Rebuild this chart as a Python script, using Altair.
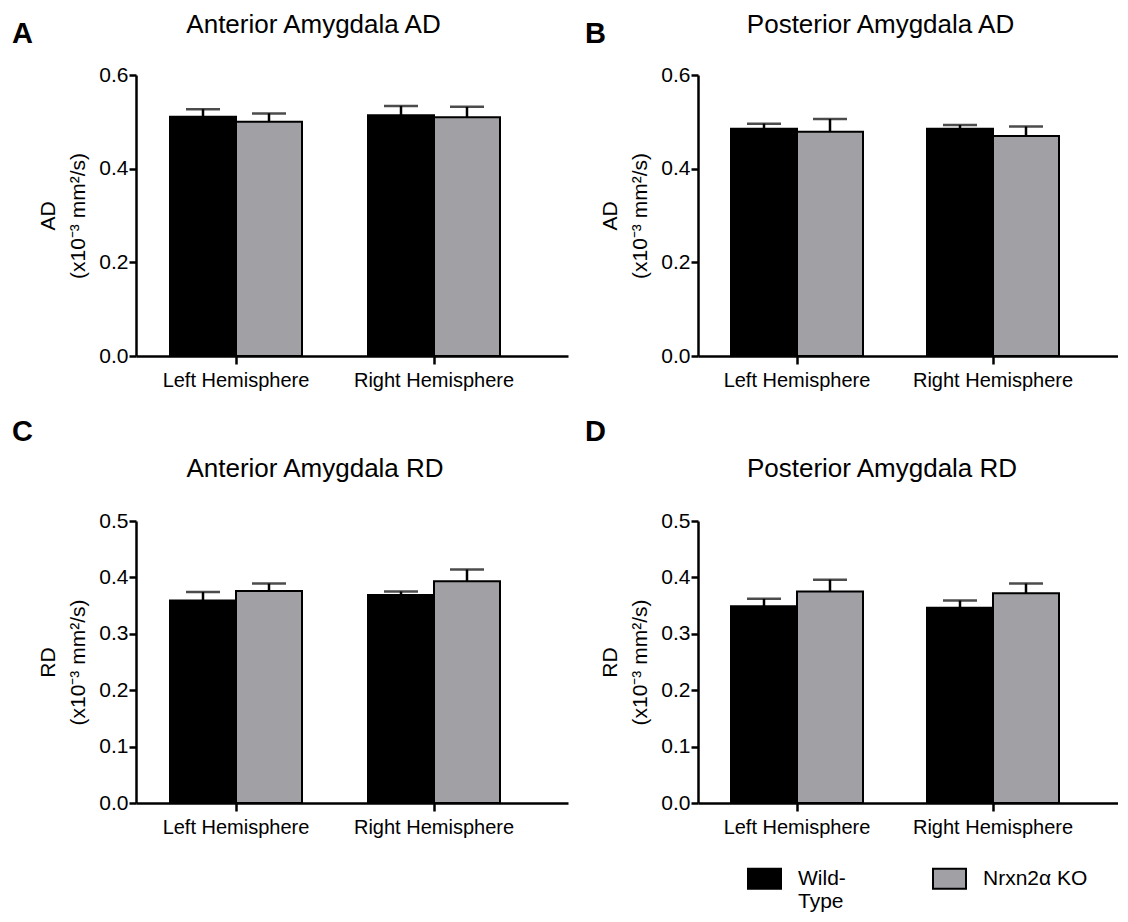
import altair as alt
import pandas as pd

hemispheres = ["Left Hemisphere", "Right Hemisphere"]
groups = ["Wild-Type", "Nrxn2α KO"]
unit_label = "(x10⁻³ mm²/s)"

# order of values: Left WT, Left KO, Right WT, Right KO
ant_ad_mean = [0.511, 0.500, 0.514, 0.510]
ant_ad_err = [0.016, 0.018, 0.020, 0.022]
post_ad_mean = [0.485, 0.479, 0.485, 0.470]
post_ad_err = [0.011, 0.027, 0.008, 0.020]
ant_rd_mean = [0.359, 0.376, 0.369, 0.393]
ant_rd_err = [0.015, 0.013, 0.006, 0.021]
post_rd_mean = [0.349, 0.375, 0.346, 0.372]
post_rd_err = [0.013, 0.021, 0.013, 0.017]

ad_ticks = [0.0, 0.2, 0.4, 0.6]
rd_ticks = [0.0, 0.1, 0.2, 0.3, 0.4, 0.5]

FONT = "Liberation Sans"
GRAY = "#a0a0a5"


def band_params(width, first_center, step, group_w=132):
    pi = 1 - group_w / step
    outer = width - step - group_w
    po = outer / (2 * step)
    al = (first_center - group_w / 2) / outer
    return pi, po, al


def panel(mean, err, title, letter, ylab, ticks, width, height, first_center, step,
          title_x, title_y, letter_x, letter_y):
    df = pd.DataFrame({
        "hemi": [h for h in hemispheres for g in groups],
        "group": [g for h in hemispheres for g in groups],
        "mean": mean,
        "err": err,
    })
    df["upper"] = df["mean"] + df["err"]
    pi, po, al = band_params(width, first_center, step)
    x = alt.X("hemi:N",
              scale=alt.Scale(domain=hemispheres, paddingInner=pi, paddingOuter=po, align=al),
              axis=alt.Axis(title=None, labelAngle=0, labelFontSize=20, labelPadding=6,
                            tickSize=8))
    xo = alt.XOffset("group:N", scale=alt.Scale(domain=groups, paddingInner=0, paddingOuter=0))
    y = alt.Y("mean:Q",
              scale=alt.Scale(domain=[ticks[0], ticks[-1]], nice=False, zero=True),
              axis=alt.Axis(values=ticks, format=".1f", title=[ylab, unit_label],
                            labelFontSize=21, labelPadding=1, tickSize=7,
                            titleFontSize=21, titleFontWeight="normal", titleLineHeight=30,
                            titlePadding=10, titleFont=FONT, titleColor="black"))
    base = alt.Chart(df)
    bars = base.mark_bar(stroke="black", strokeWidth=2).encode(
        x=x, xOffset=xo, y=y,
        color=alt.Color("group:N", scale=alt.Scale(domain=groups, range=["#000000", GRAY]),
                        legend=alt.Legend(title=None,
                                          labelExpr="datum.label == 'Wild-Type' ? ['Wild-', 'Type'] : [datum.label, '']")),
    )
    rules = base.mark_rule(color="black", strokeWidth=2.5).encode(
        x=x, xOffset=xo, y="mean:Q", y2="upper:Q")
    caps = base.mark_tick(color="black", thickness=2.5, size=34).encode(
        x=x, xOffset=xo, y="upper:Q")
    lab = alt.Chart(pd.DataFrame({"l": [letter]})).mark_text(
        font=FONT, fontSize=29, fontWeight="bold", align="left", baseline="alphabetic", color="black"
    ).encode(text="l:N", x=alt.value(letter_x), y=alt.value(letter_y))
    ttl = alt.Chart(pd.DataFrame({"t": [title]})).mark_text(
        font=FONT, fontSize=26, align="center", baseline="alphabetic", color="black"
    ).encode(text="t:N", x=alt.value(title_x), y=alt.value(title_y))
    return alt.layer(bars, rules, caps, lab, ttl).properties(width=width, height=height)


A = panel(ant_ad_mean, ant_ad_err, "Anterior Amygdala AD", "A", "AD", ad_ticks,
          432, 281, 100, 198, 177.5, -42, -124, -32)
B = panel(post_ad_mean, post_ad_err, "Posterior Amygdala AD", "B", "AD", ad_ticks,
          420, 281, 99, 196, 182.5, -42, -113, -32)
C = panel(ant_rd_mean, ant_rd_err, "Anterior Amygdala RD", "C", "RD", rd_ticks,
          432, 282, 100, 198, 179, -44, -124, -80)
D = panel(post_rd_mean, post_rd_err, "Posterior Amygdala RD", "D", "RD", rd_ticks,
          420, 282, 99, 196, 184, -44, -113, -80)

chart = alt.concat(A, B, C, D, columns=2, spacing={"row": 165, "column": 130}, bounds="flush").properties(
    padding={"left": 4, "top": 4, "right": 0, "bottom": 0}
).configure_view(stroke=None).configure_axis(
    domainColor="black", domainWidth=2.5, tickColor="black", tickWidth=2.5,
    labelFont=FONT, labelColor="black", grid=False,
).configure_legend(
    orient="none", legendX=611, legendY=786, direction="horizontal", columns=2,
    columnPadding=83, symbolType="M-1,-0.6H1V0.6H-1Z", symbolSize=1089,
    symbolStrokeColor="black", symbolStrokeWidth=2, labelFont=FONT, labelFontSize=21,
    labelColor="black", labelOffset=16, symbolOpacity=1,
)

chart.save("out.html", embed_options={"renderer": "svg", "actions": False})
